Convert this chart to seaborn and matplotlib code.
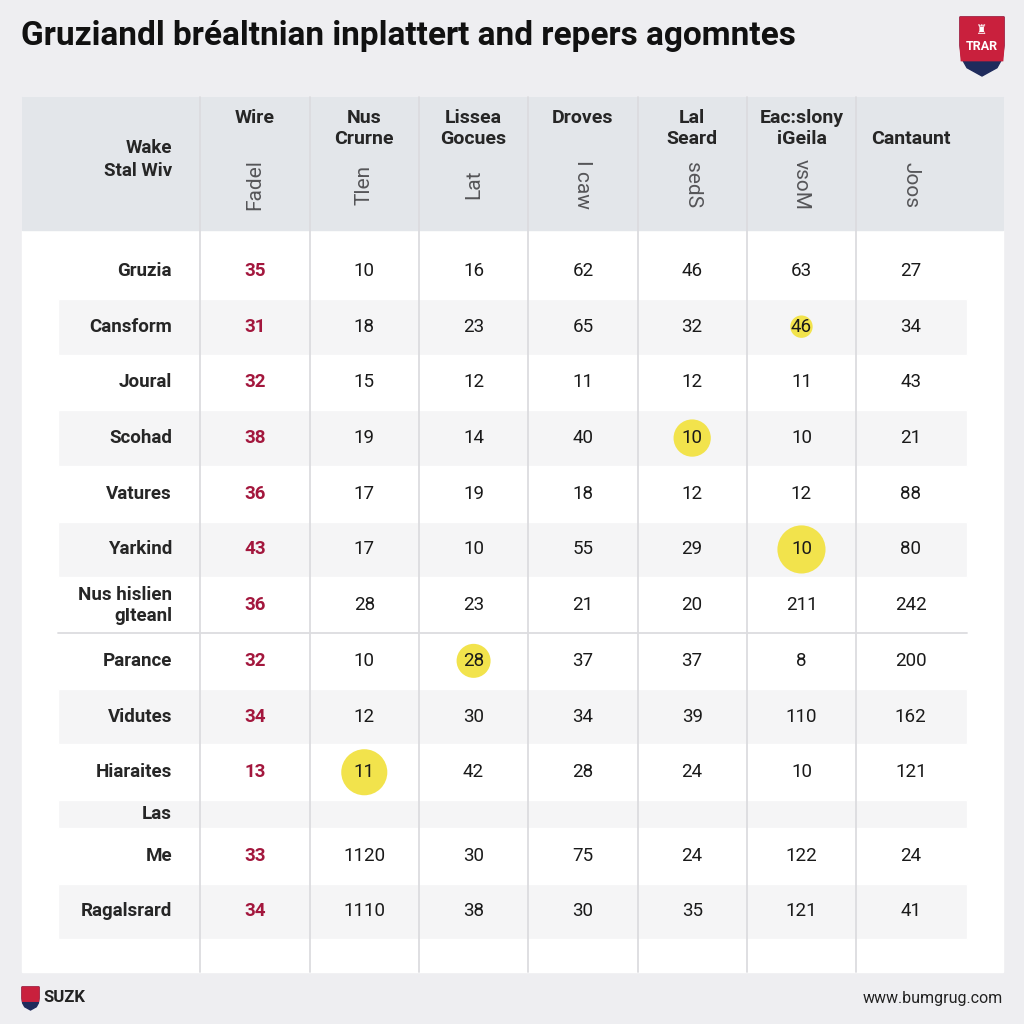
import matplotlib.pyplot as plt
import pandas as pd
import seaborn as sns
from matplotlib.patches import Polygon, Rectangle

TITLE = "Gruziandl bréaltnian inplattert and repers agomntes"
CORNER = "Wake\nStal Wiv"
COLUMNS = ["Wire", "Nus\nCrurne", "Lissea\nGocues", "Droves", "Lal\nSeard",
           "Eac:slony\niGeila", "\nCantaunt"]
SUBLABELS = ["Fadel", "Tlen", "Lat", "I caw", "sedS", "vsoM", "Joos"]
SUB_ROT = [90, 90, 90, 270, 270, 270, 270]

ROW_LABELS = ["Gruzia", "Cansform", "Joural", "Scohad", "Vatures", "Yarkind",
              "Nus hislien\ngIteanl", "Parance", "Vidutes", "Hiaraites", "Las",
              "Me", "Ragalsrard"]

WIRE = [35, 31, 32, 38, 36, 43, 36, 32, 34, 13, None, 33, 34]
NUS_CRURNE = [10, 18, 15, 19, 17, 17, 28, 10, 12, 11, None, 1120, 1110]
LISSEA = [16, 23, 12, 14, 19, 10, 23, 28, 30, 42, None, 30, 38]
DROVES = [62, 65, 11, 40, 18, 55, 21, 37, 34, 28, None, 75, 30]
LAL_SEARD = [46, 32, 12, 10, 12, 29, 20, 37, 39, 24, None, 24, 35]
EACSLONY = [63, 46, 11, 10, 12, 10, 211, 8, 110, 10, None, 122, 121]
CANTAUNT = [27, 34, 43, 21, 88, 80, 242, 200, 162, 121, None, 24, 41]
VALUE_COLS = [WIRE, NUS_CRURNE, LISSEA, DROVES, LAL_SEARD, EACSLONY, CANTAUNT]

STRIPED = ["Cansform", "Scohad", "Yarkind", "Vidutes", "Las", "Ragalsrard"]

HL_ROWS = ["Cansform", "Scohad", "Yarkind", "Parance", "Hiaraites"]
HL_COLS = [5, 4, 5, 2, 1]
HL_SIZE = [260, 720, 1200, 600, 1100]

BG = "#eeeef1"
HEAD_BG = "#e3e6ea"
STRIPE = "#f5f5f6"
GRID = "#dcdcdf"
RED = "#a3173d"
YELLOW = "#f2e34c"
FONT = ["Roboto", "DejaVu Sans"]


def row_centers(labels):
    heights = [0.5 if lab == "Las" else 1.0 for lab in labels]
    centers, top = [], -0.5
    for h in heights:
        centers.append(top + h / 2)
        top += h
    return centers, heights


def px(x, y):
    return x / 1024, 1 - y / 1024


def shield(fig, x0, y0, w, h, split):
    # outline in fractions of the shield box
    outline = [(0, 0), (1, 0), (1, 0.48), (0.96, 0.7), (0.84, 0.86),
               (0.5, 1), (0.16, 0.86), (0.04, 0.7), (0, 0.48)]
    top = [p for p in outline if p[1] <= split] + [(0.97, split), (0.03, split)]
    top = [(0, 0), (1, 0), (1, 0.48), (0.97, split), (0.03, split), (0, 0.48)]
    for pts, colour in ((outline, "#1f2b5c"), (top, "#c9203d")):
        xy = [px(x0 + u * w, y0 + v * h) for u, v in pts]
        fig.patches.append(Polygon(xy, closed=True, transform=fig.transFigure,
                                   color=colour))


def main():
    sns.set_theme(style="white")
    plt.rcParams["font.family"] = FONT

    ys, hs = row_centers(ROW_LABELS)
    fig = plt.figure(figsize=(10.24, 10.24), dpi=100)
    fig.patch.set_facecolor(BG)
    ax = fig.add_axes([0, 0, 1, 1])
    ax.set_facecolor(BG)
    ax.set_xlim(-2.333, 7.036)
    ax.set_ylim(13.52, -4.865)

    head_top, head_bot, tab_bot = -3.124, -0.736, 12.585
    ax.add_patch(Rectangle((-2.13, head_top), 8.97, tab_bot - head_top,
                           color="white", zorder=0))
    ax.add_patch(Rectangle((-2.13, head_top), 8.97, head_bot - head_top,
                           color=HEAD_BG, zorder=0.5))

    # stripes
    for lab, y, h in zip(ROW_LABELS, ys, hs):
        if lab in STRIPED:
            ax.barh(y, 8.31, left=-1.80, height=h, color=STRIPE, zorder=1)
    sep = ys[ROW_LABELS.index("Nus hislien\ngIteanl")] + 0.5
    ax.plot([-1.80, 6.51], [sep, sep], color=GRID, lw=1.3, zorder=2)

    for j in range(len(COLUMNS)):
        ax.plot([j - 0.5, j - 0.5], [head_top, tab_bot], color=GRID,
                lw=1.3, zorder=2)

    # highlights
    hl = pd.DataFrame({
        "x": HL_COLS,
        "y": [ys[ROW_LABELS.index(r)] for r in HL_ROWS],
        "s": HL_SIZE,
    })
    sns.scatterplot(data=hl, x="x", y="y", size="s",
                    sizes={s: s for s in HL_SIZE}, color=YELLOW,
                    edgecolor="none", legend=False, ax=ax, zorder=3)

    # header
    ax.text(-0.76, -2.0, CORNER, ha="right", va="center", fontsize=13.5,
            fontweight="bold", linespacing=1.35)
    for j, (name, sub, rot) in enumerate(zip(COLUMNS, SUBLABELS, SUB_ROT)):
        ax.text(j, -2.9, name, ha="center", va="top", fontsize=14,
                fontweight="bold", linespacing=1.15)
        ax.text(j, -1.55, sub, ha="center", va="center", fontsize=15,
                rotation=rot, color="#555558")

    # body
    for i, (lab, y) in enumerate(zip(ROW_LABELS, ys)):
        ax.text(-0.76, y, lab, ha="right", va="center", fontsize=13.5,
                fontweight="bold", linespacing=1.2)
        for j, col in enumerate(VALUE_COLS):
            v = col[i]
            if v is None:
                continue
            ax.text(j, y, str(v), ha="center", va="center", fontsize=13.5,
                    color=RED if j == 0 else "#1a1a1a",
                    fontweight="bold" if j == 0 else "normal", zorder=4)

    ax.set_axis_off()

    fig.text(*px(21, 36), TITLE, ha="left", va="center", fontsize=24,
             fontweight="bold", color="#111111")
    shield(fig, 960, 17, 44, 59, 0.74)
    fig.text(*px(982, 47), "TRAR", ha="center", va="center", fontsize=9,
             fontweight="bold", color="white")
    fig.text(*px(982, 30), "♜", ha="center", va="center", fontsize=9,
             color="white", family=["DejaVu Sans"])
    shield(fig, 22, 987, 17, 23, 0.62)
    fig.text(*px(43, 998), "SUZK", ha="left", va="center", fontsize=12,
             fontweight="bold", color="#222222")
    fig.text(*px(1003, 999), "www.bumgrug.com", ha="right", va="center",
             fontsize=11.5, color="#222222")

    fig.savefig("out.png", dpi=100, facecolor=BG)
    plt.close(fig)


if __name__ == "__main__":
    main()
